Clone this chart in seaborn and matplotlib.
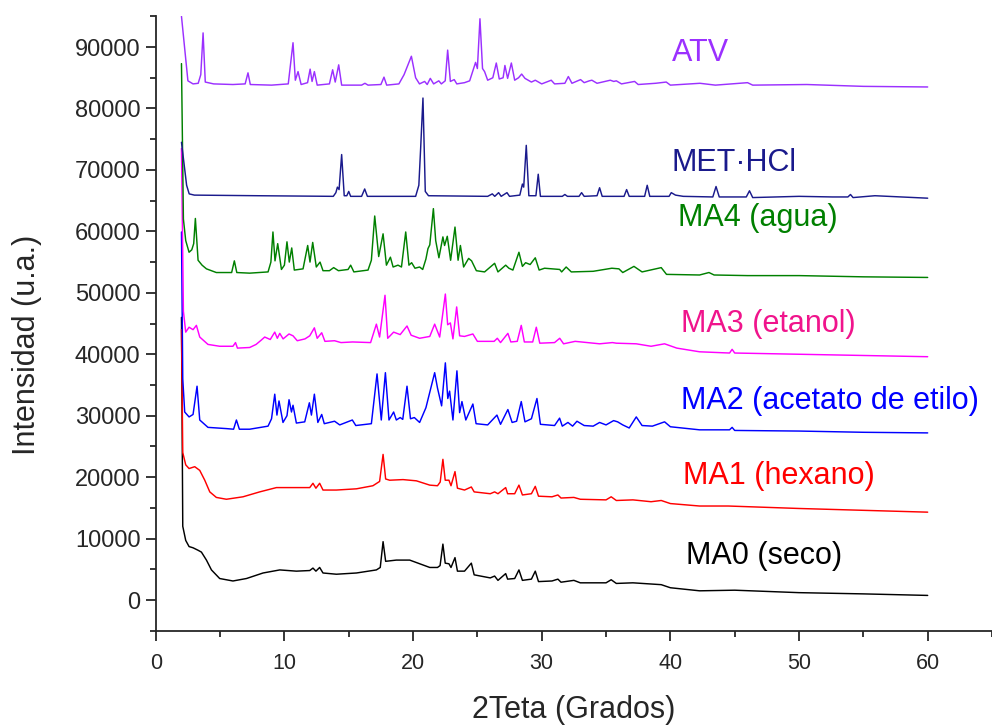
import matplotlib
matplotlib.use("Agg")
import matplotlib.pyplot as plt
import pandas as pd
import seaborn as sns
from matplotlib.ticker import MultipleLocator, FuncFormatter

# ---- Diffractograms (2θ in degrees, intensity in a.u., already offset) ----
atv_x = [2.0, 2.5, 2.9, 3.3, 3.5, 3.68, 3.85, 4.5, 6.0, 6.95, 7.17, 7.35, 9.0, 10.3, 10.67, 10.85,
         11.06, 11.3, 11.8, 12.0, 12.15, 12.33, 12.55, 13.5, 13.75, 13.95, 14.22, 14.45, 16.0, 16.26,
         16.5, 17.5, 17.74, 17.95, 18.9, 19.3, 19.87, 20.2, 20.5, 20.9, 21.1, 21.34, 21.6, 22.0, 22.2,
         22.5, 22.69, 22.9, 23.2, 23.4, 24.0, 24.4, 24.86, 25.0, 25.2, 25.4, 25.56, 25.8, 26.2, 26.47,
         26.7, 27.0, 27.14, 27.35, 27.64, 27.9, 28.2, 28.44, 28.7, 29.2, 29.5, 30.0, 30.74, 31.0, 31.8,
         32.07, 32.35, 33.02, 33.3, 33.7, 33.9, 34.3, 35.33, 35.6, 35.8, 36.2, 37.22, 37.5, 38.85,
         39.68, 40.0, 42.3, 43.5, 46.0, 46.4, 50.6, 55.0, 60.0]
atv_y = [95000, 84500, 84000, 84100, 85500, 92300, 84300, 84000, 83900, 84000, 85800, 83900, 83800,
         84000, 90700, 84600, 86000, 83900, 84200, 86400, 84400, 86000, 83800, 84000, 86300, 84300,
         87100, 83800, 83800, 84100, 83800, 83900, 85100, 83800, 84000, 85500, 88500, 85000, 84000,
         84400, 83900, 84900, 84000, 84500, 84000, 84500, 89500, 84400, 84700, 84000, 84200, 84500,
         87500, 86500, 94600, 86500, 86000, 84600, 85000, 87400, 84800, 85000, 87000, 84900, 87400,
         84600, 85000, 85600, 84900, 84300, 84600, 84000, 84600, 84000, 84100, 85200, 84100, 84700,
         84200, 84500, 84600, 84100, 84600, 84400, 84500, 84000, 84400, 83900, 84100, 84300, 83800,
         84100, 83800, 84200, 83800, 83900, 83600, 83500]

met_x = [2.0, 2.2, 2.4, 2.6, 3.0, 8.0, 13.8, 14.0, 14.12, 14.25, 14.45, 14.65, 14.85, 15.0, 15.15,
         16.0, 16.24, 16.45, 20.2, 20.45, 20.59, 20.77, 20.95, 21.2, 25.8, 26.16, 26.35, 26.65, 26.85,
         27.3, 27.5, 28.3, 28.5, 28.6, 28.8, 29.0, 29.55, 29.73, 29.9, 31.6, 31.8, 32.0, 32.9, 33.1,
         33.3, 34.3, 34.5, 34.7, 36.4, 36.6, 36.8, 38.0, 38.2, 38.4, 39.9, 40.07, 40.4, 41.0, 43.3,
         43.55, 43.8, 45.9, 46.15, 46.4, 50.0, 52.6, 53.8, 54.0, 54.2, 55.9, 60.0]
met_y = [74500, 71000, 67500, 66100, 65900, 65800, 65700, 66300, 67200, 66800, 72500, 65800, 65800,
         66500, 65700, 65700, 66900, 65700, 65700, 67500, 73500, 81700, 66500, 65800, 65700, 66100,
         65700, 66300, 65700, 66300, 65700, 65900, 67700, 67200, 74000, 65800, 65800, 69300, 65700,
         65700, 66000, 65700, 65700, 66300, 65700, 65800, 67100, 65700, 65700, 66800, 65700, 65700,
         67500, 65700, 65700, 66300, 65900, 65700, 65600, 67300, 65600, 65600, 66600, 65500, 65700,
         65600, 65600, 66000, 65500, 65800, 65400]

ma4_x = [2.0, 2.15, 2.33, 2.59, 2.8, 2.95, 3.08, 3.29, 3.6, 3.94, 4.71, 5.9, 6.11, 6.3, 7.3, 8.73,
         8.95, 9.11, 9.27, 9.48, 9.77, 10.0, 10.2, 10.38, 10.57, 10.77, 11.45, 11.81, 11.99, 12.2,
         12.48, 12.77, 13.0, 13.5, 13.83, 14.2, 14.95, 15.15, 15.4, 16.5, 16.76, 17.02, 17.33, 17.67,
         17.93, 18.24, 18.45, 18.83, 19.1, 19.43, 19.68, 19.89, 20.15, 20.51, 20.75, 21.0, 21.16, 21.3,
         21.58, 21.76, 22.01, 22.32, 22.45, 22.66, 22.92, 23.26, 23.5, 23.68, 23.93, 24.32, 24.55,
         24.92, 25.56, 26.34, 26.6, 27.2, 27.45, 27.76, 28.23, 28.5, 28.75, 29.1, 29.5, 29.8, 30.22,
         31.4, 31.55, 31.9, 32.3, 34.0, 35.45, 36.0, 36.3, 37.17, 37.8, 39.29, 39.7, 42.27, 43.0,
         43.4, 46.0, 50.0, 55.0, 60.0]
ma4_y = [87300, 62000, 58500, 56600, 57000, 58000, 62100, 55300, 54500, 53900, 53300, 53300, 55200,
         53300, 53200, 53400, 55000, 59900, 55200, 58000, 53800, 54500, 58300, 55000, 57300, 53700,
         53900, 57700, 55000, 58200, 54200, 55000, 53600, 53600, 54100, 53600, 53800, 54500, 53400,
         53700, 55300, 62500, 55900, 59600, 54500, 55800, 54200, 54500, 54200, 59900, 54500, 54900,
         54000, 54200, 53800, 55500, 57200, 57800, 63700, 58500, 55700, 59100, 57700, 59200, 55300,
         60700, 55300, 57700, 54200, 55600, 55200, 53600, 53400, 54800, 53400, 54500, 54000, 53700,
         56600, 54300, 54900, 54600, 55700, 53700, 54000, 53800, 53400, 54200, 53400, 53500, 54000,
         53900, 53300, 54300, 53400, 54100, 53000, 52900, 53300, 52900, 52800, 52800, 52600, 52500]

ma3_x = [2.0, 2.15, 2.33, 2.59, 2.9, 3.16, 3.42, 4.06, 4.97, 6.0, 6.2, 6.35, 7.3, 7.8, 8.2, 8.47,
         8.9, 9.25, 9.45, 9.64, 9.9, 10.36, 10.67, 11.0, 11.6, 11.97, 12.33, 12.55, 12.9, 13.15,
         13.9, 14.4, 15.3, 16.7, 17.15, 17.4, 17.82, 18.03, 18.49, 19.0, 19.53, 19.85, 20.51, 21.3,
         21.68, 22.07, 22.51, 22.69, 22.9, 23.1, 23.39, 23.62, 24.0, 24.65, 25.0, 26.3, 26.55, 26.8,
         27.37, 27.6, 28.1, 28.41, 28.65, 29.3, 29.58, 29.85, 31.0, 31.4, 31.7, 32.6, 34.5, 35.5,
         35.8, 37.35, 38.5, 39.55, 40.5, 42.27, 44.6, 44.8, 45.0, 50.0, 55.0, 60.0]
ma3_y = [73500, 47000, 43600, 44400, 44000, 44700, 42800, 41600, 41300, 41300, 41900, 41000, 41100,
         41600, 42300, 42800, 42400, 43600, 42600, 43400, 42500, 43300, 43000, 42200, 42500, 43000,
         44300, 42600, 43500, 42100, 42200, 41900, 42000, 41900, 44900, 42800, 49600, 42600, 43600,
         43200, 44600, 43100, 42600, 42900, 44900, 42800, 49800, 44800, 45100, 42500, 47700, 43000,
         42900, 43300, 42100, 42100, 42600, 41900, 43400, 42000, 42100, 44700, 42000, 42000, 44400,
         41800, 41900, 42600, 41700, 42100, 41700, 41900, 41800, 41700, 41300, 41700, 41000, 40400,
         40200, 40800, 40200, 40000, 39800, 39600]

ma2_x = [2.0, 2.1, 2.25, 2.59, 2.9, 3.21, 3.42, 4.06, 5.49, 6.05, 6.27, 6.5, 7.3, 8.73, 9.0, 9.25,
         9.42, 9.58, 9.89, 10.2, 10.36, 10.55, 10.67, 10.93, 11.58, 11.94, 12.1, 12.33, 12.6, 12.9,
         13.1, 13.9, 14.3, 15.28, 15.55, 16.76, 17.2, 17.53, 17.85, 18.13, 18.49, 18.7, 19.0, 19.2,
         19.53, 19.8, 20.1, 20.51, 21.0, 21.68, 21.9, 22.22, 22.51, 22.7, 22.84, 23.1, 23.41, 23.62,
         23.8, 24.1, 24.65, 24.9, 25.8, 26.52, 26.8, 27.37, 27.7, 28.05, 28.41, 28.7, 29.2, 29.63,
         29.9, 31.0, 31.39, 31.6, 32.04, 32.4, 32.74, 33.3, 34.0, 34.5, 35.0, 35.59, 35.9, 36.3, 36.8,
         37.35, 37.8, 38.6, 39.55, 40.0, 42.27, 44.6, 44.8, 45.0, 50.0, 55.0, 60.0]
ma2_y = [59900, 36000, 30600, 29800, 30200, 34800, 29300, 28100, 27900, 27800, 29300, 27800, 27800,
         28300, 29500, 33500, 30100, 32400, 28900, 30000, 32600, 30600, 31700, 28800, 29000, 32100,
         30100, 33500, 28900, 30200, 28700, 29100, 28500, 29300, 28400, 28700, 36800, 29300, 37000,
         29300, 30600, 29300, 29700, 29400, 34800, 29500, 29700, 28900, 31300, 37000, 34500, 31600,
         38600, 32800, 34000, 29300, 37300, 30500, 32300, 29300, 31900, 28700, 28500, 30100, 28600,
         31000, 28900, 29100, 32300, 29000, 29500, 32800, 28600, 28400, 29600, 28300, 28900, 28300,
         29100, 28400, 28300, 28900, 28500, 29200, 29000, 28500, 28000, 29800, 28400, 28300, 29000,
         28200, 27700, 27700, 28100, 27600, 27500, 27300, 27200]

ma1_x = [2.0, 2.1, 2.33, 2.59, 3.03, 3.42, 3.81, 4.2, 4.71, 5.49, 6.78, 8.08, 9.38, 10.93, 11.97,
         12.22, 12.45, 12.74, 13.0, 14.04, 15.6, 16.88, 17.4, 17.67, 17.87, 18.18, 19.22, 20.26, 21.3,
         21.9, 22.11, 22.32, 22.5, 22.79, 22.95, 23.26, 23.45, 24.0, 24.53, 24.75, 26.0, 26.34, 26.6,
         27.2, 27.35, 27.9, 28.23, 28.5, 29.2, 29.5, 29.75, 30.8, 31.26, 31.5, 32.5, 33.0, 35.0, 35.4,
         35.8, 37.09, 38.5, 39.29, 40.0, 42.27, 44.5, 50.0, 55.0, 60.0]
ma1_y = [44000, 24000, 22000, 21400, 21700, 21100, 19500, 17600, 16700, 16400, 16800, 17600, 18300,
         18300, 18300, 19000, 18200, 19000, 17900, 17900, 18100, 18600, 19300, 23700, 19700, 19500,
         19600, 19400, 18700, 18600, 19200, 22900, 19500, 19500, 18600, 20900, 18200, 17900, 18400,
         17600, 17300, 17600, 17300, 18300, 17300, 17300, 18700, 17100, 17300, 18500, 16900, 16800,
         17100, 16600, 16700, 16400, 16300, 16800, 16200, 16300, 16000, 16200, 15700, 15300, 15300,
         14900, 14600, 14300]

ma0_x = [2.0, 2.1, 2.33, 2.59, 2.9, 3.29, 3.55, 3.94, 4.33, 4.97, 6.0, 7.05, 8.34, 9.64, 10.93,
         11.97, 12.22, 12.45, 12.74, 13.0, 14.04, 15.6, 17.15, 17.45, 17.67, 17.87, 18.7, 19.74, 21.3,
         21.9, 22.1, 22.32, 22.5, 22.79, 22.95, 23.26, 23.45, 24.0, 24.53, 24.75, 26.0, 26.34, 26.6,
         27.2, 27.35, 27.9, 28.23, 28.5, 29.2, 29.5, 29.75, 30.8, 31.26, 31.5, 32.5, 33.0, 35.0, 35.4,
         35.8, 37.09, 39.29, 40.0, 42.27, 45.0, 50.0, 55.0, 60.0]
ma0_y = [46000, 12000, 9700, 8700, 8500, 8100, 7800, 6500, 4900, 3500, 3100, 3500, 4400, 4900, 4700,
         4800, 5200, 4700, 5300, 4400, 4200, 4400, 4900, 5300, 9500, 6300, 6500, 6500, 5300, 5300,
         5600, 9100, 6000, 5900, 5300, 6900, 4700, 4700, 6000, 4100, 3600, 3900, 3200, 4300, 3400,
         3500, 4900, 3200, 3400, 4700, 3000, 3100, 3400, 2900, 3200, 2800, 2800, 3300, 2700, 2800,
         2500, 2000, 1500, 1600, 1200, 1000, 750]

samples = ["MA0 (seco)", "MA1 (hexano)", "MA2 (acetato de etilo)", "MA3 (etanol)",
           "MA4 (agua)", "MET·HCl", "ATV"]
line_colors = ["#000000", "#FF0000", "#0000FF", "#FF00FF", "#008000", "#1A1A8C", "#9B30FF"]
text_colors = ["#000000", "#FF0000", "#0000FF", "#F0148C", "#008000", "#1A1A8C", "#9B30FF"]
xs = [ma0_x, ma1_x, ma2_x, ma3_x, ma4_x, met_x, atv_x]
ys = [ma0_y, ma1_y, ma2_y, ma3_y, ma4_y, met_y, atv_y]

# label anchors (left edge, baseline) in data units
label_x = [41.2, 41.0, 40.8, 40.8, 40.6, 40.1, 40.1]
label_y = [5900, 18900, 31100, 43600, 60800, 69900, 87800]

df = pd.concat(
    [pd.DataFrame({"2theta": x, "I": y, "muestra": s}) for s, x, y in zip(samples, xs, ys)],
    ignore_index=True,
)

sns.set_style("ticks")
plt.rcParams["font.family"] = ["Liberation Sans", "DejaVu Sans"]

fig = plt.figure(figsize=(9.92, 7.25), dpi=100)
ax = fig.add_axes([0.157, 0.13, 0.843, 0.8475])

sns.lineplot(data=df, x="2theta", y="I", hue="muestra", hue_order=samples,
             palette=dict(zip(samples, line_colors)), estimator=None, sort=False,
             linewidth=1.05, legend=False, ax=ax)

for s, c, lx, ly in zip(samples, text_colors, label_x, label_y):
    ax.text(lx, ly, s, color=c, fontsize=22, ha="left", va="baseline")

ax.set_xlim(0, 65)
ax.set_ylim(-5000, 95000)
ax.xaxis.set_major_locator(MultipleLocator(10))
ax.xaxis.set_minor_locator(MultipleLocator(5))
ax.yaxis.set_major_locator(MultipleLocator(10000))
ax.yaxis.set_minor_locator(MultipleLocator(5000))
ax.set_xticks(range(0, 61, 10))
ax.yaxis.set_major_formatter(FuncFormatter(
    lambda v, p: f"{int(v)}" if 0 <= v <= 90000 else ""))

for side in ("top", "right"):
    ax.spines[side].set_visible(False)
for side in ("left", "bottom"):
    ax.spines[side].set_linewidth(1.3)

ax.tick_params(axis="both", which="major", direction="out", length=7, width=1.3)
ax.tick_params(axis="both", which="minor", direction="out", length=4, width=1.3)
ax.tick_params(axis="x", labelsize=15.5, pad=9)
ax.tick_params(axis="y", labelsize=17, pad=4)

ax.set_ylabel("")
ax.set_xlabel("2Teta (Grados)", fontsize=22)
ax.xaxis.set_label_coords(0.5, -0.105)
fig.text(27 / 992, 1 - 345 / 725, "Intensidad (u.a.)", fontsize=22, rotation=90,
         ha="center", va="center")

fig.savefig("out.png", dpi=100)
